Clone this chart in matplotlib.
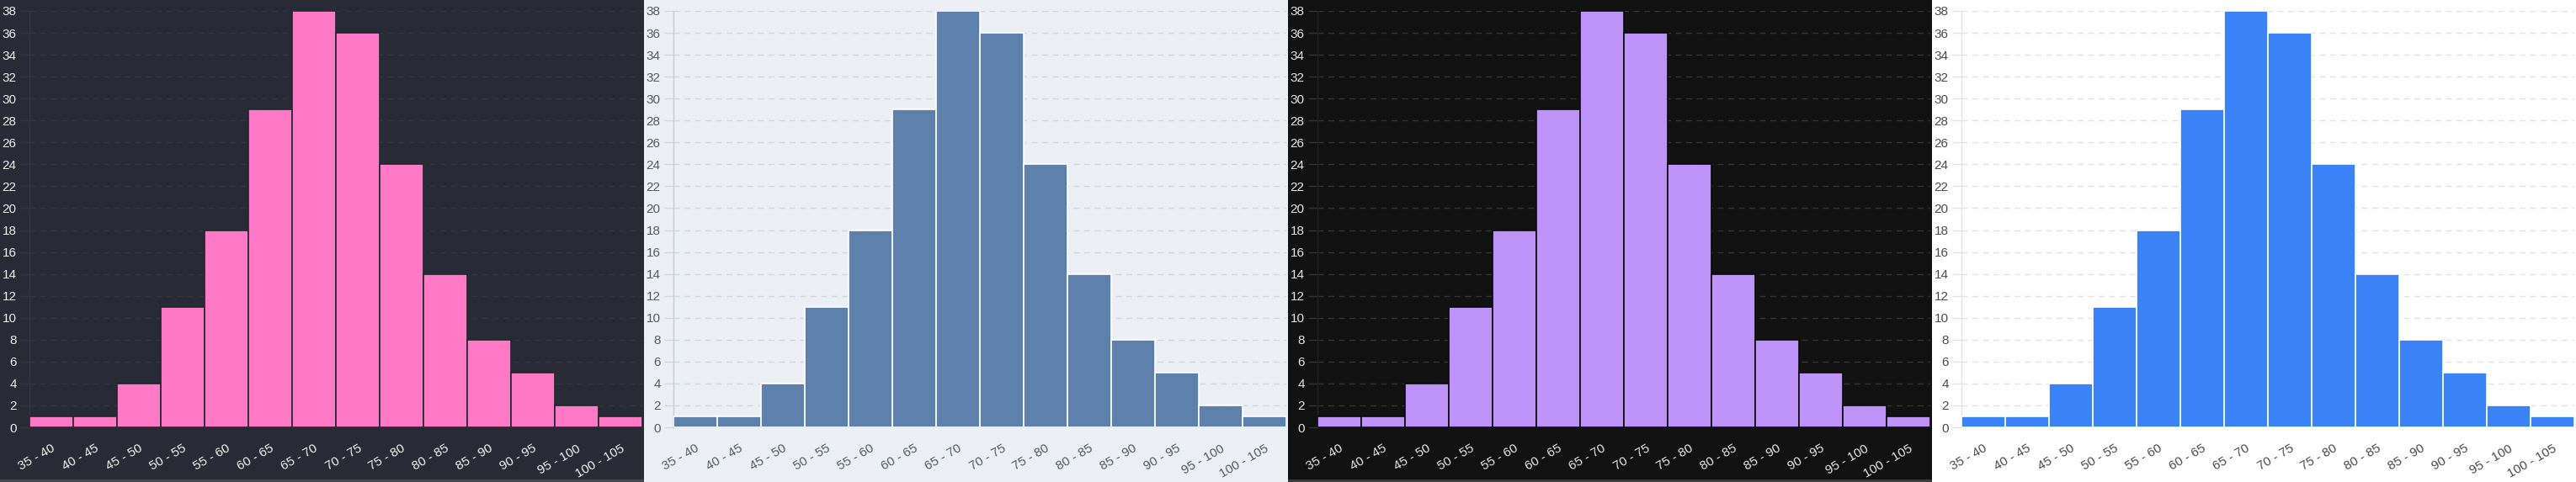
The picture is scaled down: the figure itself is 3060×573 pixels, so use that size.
import matplotlib
matplotlib.use("Agg")
import matplotlib.pyplot as plt
from matplotlib.patches import Rectangle

# histogram data
bin_labels = ["35 - 40", "40 - 45", "45 - 50", "50 - 55", "55 - 60", "60 - 65", "65 - 70",
              "70 - 75", "75 - 80", "80 - 85", "85 - 90", "90 - 95", "95 - 100", "100 - 105"]
counts = [1, 1, 4, 11, 18, 29, 38, 36, 24, 14, 8, 5, 2, 1]
y_ticks = list(range(0, 39, 2))

# one theme per panel: background, bar, bar edge, grid, axis line, text, bottom border
themes = [
    dict(bg="#282a36", bar="#ff79c6", edge="#23252f", grid="#33363f", axis="#33363f",
         text="#f2f2f2", border="#44474f"),
    dict(bg="#eceff4", bar="#5e81ac", edge="#ffffff", grid="#d3d7de", axis="#c8ccd4",
         text="#555b66", border=None),
    dict(bg="#111111", bar="#bd93f9", edge="#0a0a0a", grid="#333333", axis="#222222",
         text="#e6e6e6", border="#3a3a3a"),
    dict(bg="#ffffff", bar="#3b82f6", edge="#ffffff", grid="#e3e3e3", axis="#e3e3e3",
         text="#4a4a4a", border=None),
]

W, H = 3060, 573
DPI = 100
plt.rcParams["font.family"] = ["Liberation Sans", "DejaVu Sans"]

fig = plt.figure(figsize=(W / DPI, H / DPI), dpi=DPI)

panel_w = 765
ax_left_off = 35
ax_top = 13
ax_zero = 508
ax_w = 728

for i, th in enumerate(themes):
    bg = fig.add_axes([i * panel_w / W, 0, panel_w / W, 1])
    bg.set_facecolor(th["bg"])
    bg.set_xlim(0, panel_w)
    bg.set_ylim(0, H)
    bg.set_xticks([])
    bg.set_yticks([])
    for s in bg.spines.values():
        s.set_visible(False)
    bg.set_zorder(0)
    if th["border"]:
        # thin strip along the bottom edge of the dark panels
        bg.add_patch(Rectangle((0, 0), panel_w, 3, color=th["border"], lw=0))

    ax = fig.add_axes([(i * panel_w + ax_left_off) / W, (H - ax_zero) / H,
                       ax_w / W, (ax_zero - ax_top) / H])
    ax.set_zorder(1)
    ax.patch.set_alpha(0)

    x = list(range(len(counts)))
    ax.bar(x, counts, width=1, align="edge", color=th["bar"],
           edgecolor=th["edge"], linewidth=1.2, zorder=3)

    ax.set_xlim(0, len(counts))
    ax.set_ylim(0, 38)
    ax.set_yticks(y_ticks)
    ax.set_xticks([v + 0.5 for v in x])
    ax.set_xticklabels(bin_labels, rotation=30, ha="right", rotation_mode="anchor")

    ax.grid(axis="y", color=th["grid"], linestyle=(0, (5, 4)), linewidth=1, zorder=0)
    ax.grid(axis="x", visible=False)
    ax.tick_params(axis="y", length=8, width=1, color=th["grid"], pad=3,
                   labelsize=11, labelcolor=th["text"])
    ax.tick_params(axis="x", length=0, pad=13, labelsize=11, labelcolor=th["text"])

    for side in ["top", "right", "bottom"]:
        ax.spines[side].set_visible(False)
    ax.spines["left"].set_color(th["axis"])
    ax.spines["left"].set_linewidth(1)

fig.savefig("out.png", dpi=DPI, facecolor="white")
